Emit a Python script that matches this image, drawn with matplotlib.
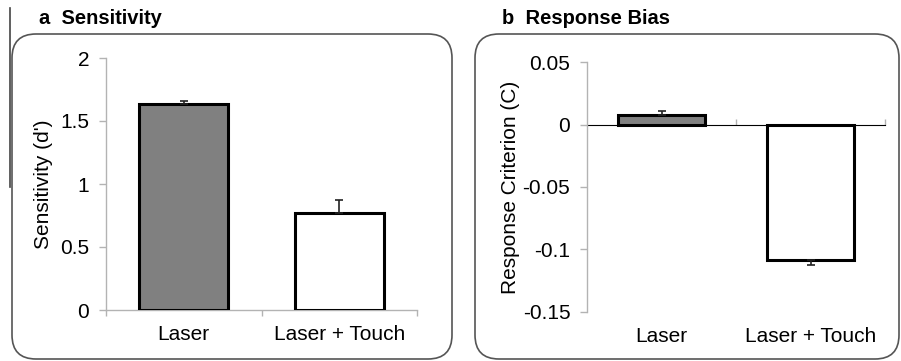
import numpy as np
import matplotlib
matplotlib.use("Agg")
import matplotlib.pyplot as plt
from matplotlib.patches import FancyBboxPatch
from matplotlib.lines import Line2D
from matplotlib.transforms import IdentityTransform

plt.rcParams['font.family'] = ['Liberation Sans', 'DejaVu Sans']

conditions = ['Laser', 'Laser + Touch']
sensitivity = [1.635, 0.772]
sensitivity_err = [0.025, 0.10]
criterion = [0.0075, -0.1085]
criterion_err_up = [0.0038, 0.0]
criterion_err_down = [0.0, 0.004]

bar_colors = ['#808080', 'white']
spine_gray = '#b3b3b3'

fig = plt.figure(figsize=(9.01, 3.61), dpi=100)

# rounded frames around each panel (pixel coords, origin bottom-left)
for x0, x1 in [(12, 452), (475, 899)]:
    box = FancyBboxPatch((x0, 361 - 359), x1 - x0, 359 - 34,
                         boxstyle='round,pad=0,rounding_size=24',
                         transform=IdentityTransform(), facecolor='none',
                         edgecolor='#555555', lw=1.2)
    fig.add_artist(box)
fig.add_artist(Line2D([10, 10], [361 - 8, 361 - 187], transform=IdentityTransform(),
                      color='#444444', lw=1.2))

fig.text(39 / 901, 1 - 18 / 361, 'a  Sensitivity', fontsize=14.5, fontweight='bold', va='center')
fig.text(502 / 901, 1 - 18 / 361, 'b  Response Bias', fontsize=14.5, fontweight='bold', va='center')

x = np.arange(len(conditions))


def style_axis(ax):
    for s in ['top', 'right']:
        ax.spines[s].set_visible(False)
    for s in ['left', 'bottom']:
        ax.spines[s].set_color(spine_gray)
        ax.spines[s].set_linewidth(1.0)
    ax.set_xlim(-0.5, 1.5)
    ax.tick_params(axis='y', colors=spine_gray, labelcolor='black', length=5,
                   width=1, labelsize=15, pad=7)
    ax.set_xticks([-0.5, 0.5, 1.5], minor=True)
    ax.tick_params(axis='x', which='minor', colors=spine_gray, length=4, width=1)


# panel a
ax1 = fig.add_axes([106 / 901, 1 - 310 / 361, 311 / 901, 252 / 361])
ax1.bar(x, sensitivity, width=0.57, color=bar_colors, edgecolor='black', lw=2.2,
        yerr=[[0, 0], sensitivity_err], error_kw=dict(ecolor='#222222', elinewidth=1.2,
                                                      capsize=3, capthick=1.2), zorder=3)
style_axis(ax1)
ax1.set_ylim(0, 2)
ax1.set_yticks([0, 0.5, 1, 1.5, 2])
ax1.set_yticklabels(['0', '0.5', '1', '1.5', '2'])
ax1.set_xticks(x)
ax1.set_xticklabels(conditions)
ax1.tick_params(axis='x', which='major', length=0, labelsize=15, pad=11)
ax1.set_ylabel("Sensitivity (d')", fontsize=15)
ax1.yaxis.set_label_coords(-0.17, 0.5)

# panel b
ax2 = fig.add_axes([587 / 901, 1 - 311.7 / 361, 298 / 901, 249.4 / 361])
ax2.bar(x, criterion, width=0.58, color=bar_colors, edgecolor='black', lw=2.2,
        yerr=[criterion_err_down, criterion_err_up],
        error_kw=dict(ecolor='#222222', elinewidth=1.2, capsize=3, capthick=1.2), zorder=3)
style_axis(ax2)
ax2.set_ylim(-0.15, 0.05)
ax2.set_yticks([-0.15, -0.1, -0.05, 0, 0.05])
ax2.set_yticklabels(['-0.15', '-0.1', '-0.05', '0', '0.05'])
ax2.spines['bottom'].set_visible(False)
ax2.tick_params(axis='x', which='minor', length=0)
ax2.set_xticks(x)
ax2.set_xticklabels(conditions)
ax2.tick_params(axis='x', which='major', length=0, labelsize=15, pad=11)
zero_ax = ax2.secondary_xaxis(0.75)
zero_ax.spines['bottom'].set_color(spine_gray)
zero_ax.set_xticks([0.5, 1.5])
zero_ax.set_xticklabels([])
zero_ax.tick_params(axis='x', colors=spine_gray, length=4, width=1)
ax2.set_ylabel('Response Criterion (C)', fontsize=15)
ax2.yaxis.set_label_coords(-0.225, 0.5)

fig.savefig('out.png', dpi=100)
